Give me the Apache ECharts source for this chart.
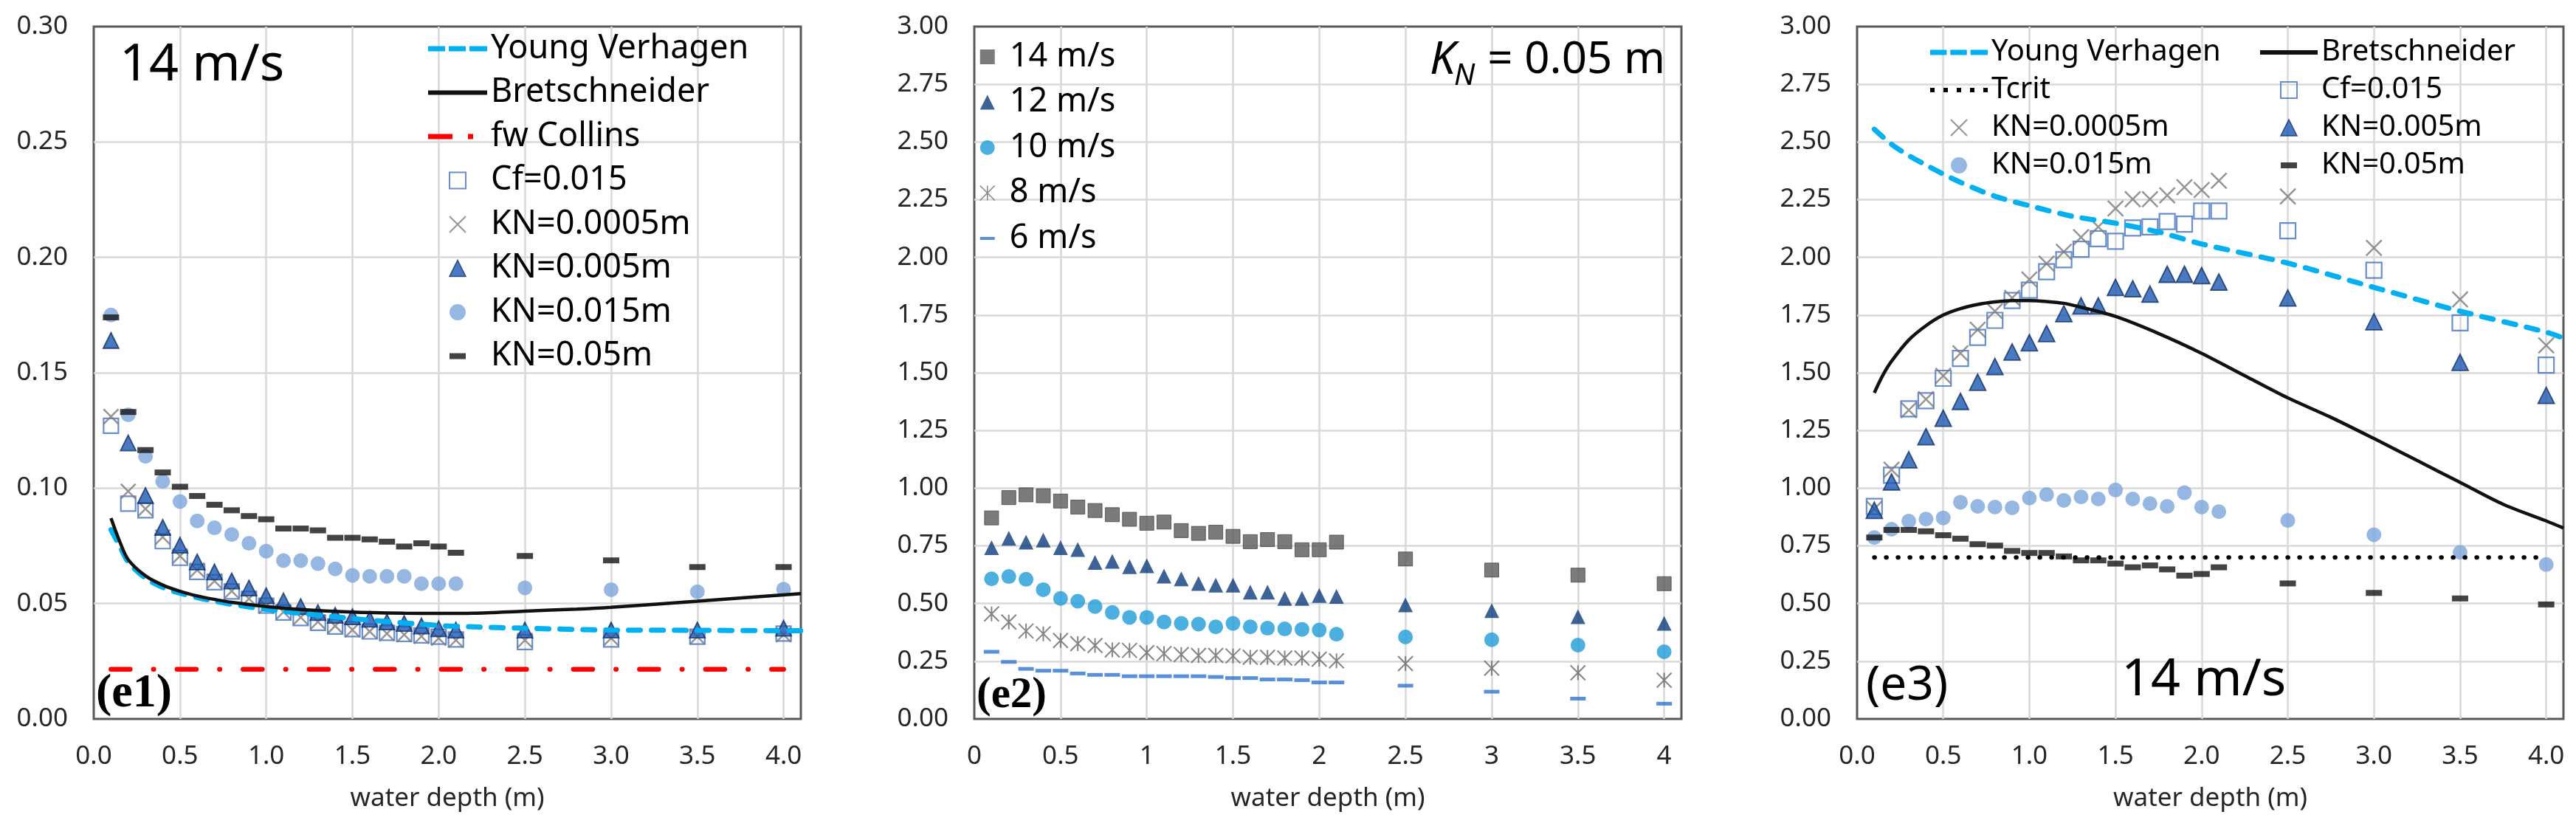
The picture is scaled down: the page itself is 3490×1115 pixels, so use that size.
<!DOCTYPE html>
<html><head><meta charset="utf-8">
<script src="https://cdn.jsdelivr.net/npm/echarts@6/dist/echarts.min.js"></script>
<style>html,body{margin:0;padding:0;background:#fff}#c{width:3490px;height:1115px}</style>
</head><body><div id="c"></div>
<script>
// ---------- DATA ----------
const depths = [0.1,0.2,0.3,0.4,0.5,0.6,0.7,0.8,0.9,1.0,1.1,1.2,1.3,1.4,1.5,1.6,1.7,1.8,1.9,2.0,2.1,2.5,3.0,3.5,4.0];

// Panel e1 (14 m/s)
const e1_cf015   = [0.127,0.0933,0.0904,0.077,0.0698,0.0637,0.0592,0.0552,0.052,0.0491,0.0461,0.0437,0.0416,0.0400,0.0389,0.0379,0.0373,0.0368,0.0362,0.0356,0.0344,0.0333,0.0344,0.0356,0.0370];
const e1_kn00005 = [0.131,0.0986,0.0910,0.0788,0.0706,0.0645,0.0598,0.0554,0.0521,0.0488,0.0463,0.0440,0.0421,0.0403,0.0386,0.0379,0.0370,0.0365,0.0358,0.0350,0.0341,0.0341,0.0350,0.0356,0.0365];
const e1_kn0005  = [0.164,0.1196,0.0968,0.083,0.0753,0.068,0.0637,0.0598,0.0567,0.0534,0.0512,0.0487,0.0461,0.0449,0.0443,0.0432,0.0420,0.0414,0.0403,0.0391,0.0385,0.0385,0.0385,0.0385,0.0393];
const e1_kn0015  = [0.175,0.1318,0.1138,0.1029,0.0942,0.0858,0.0828,0.0799,0.0761,0.0727,0.0686,0.0686,0.0673,0.0650,0.0622,0.0618,0.0618,0.0618,0.0586,0.0586,0.0586,0.0568,0.0560,0.0551,0.0562];
const e1_kn005   = [0.174,0.133,0.1165,0.1068,0.1006,0.0966,0.0928,0.0904,0.0879,0.0865,0.0825,0.0825,0.0817,0.0785,0.0785,0.0778,0.0768,0.0747,0.0761,0.0747,0.0720,0.0706,0.0687,0.0658,0.0658];
const e1_yvX   = [0.1,0.15,0.2,0.3,0.4,0.5,0.7,1.0,1.5,2.0,2.2,2.5,3.0,3.5,4.1];
const e1_yvY   = [0.082,0.075,0.068,0.061,0.057,0.0545,0.051,0.0475,0.0435,0.0405,0.0399,0.0393,0.0385,0.0384,0.0382];
const e1_bretX = [0.1,0.15,0.2,0.3,0.4,0.5,0.6,0.7,0.8,1.0,1.2,1.5,1.8,2.0,2.2,2.5,2.8,3.0,3.5,4.1];
const e1_bretY = [0.087,0.077,0.069,0.062,0.058,0.0553,0.0533,0.0518,0.0505,0.0487,0.0474,0.0463,0.0458,0.0457,0.0458,0.0467,0.0476,0.0484,0.0510,0.0543];
const e1_colX  = [0.1,4.0];
const e1_colY  = [0.0215,0.0215];

// Panel e2 (KN = 0.05 m)
const e2_14 = [0.871,0.959,0.971,0.967,0.944,0.918,0.903,0.885,0.865,0.848,0.853,0.816,0.804,0.809,0.791,0.768,0.777,0.768,0.733,0.733,0.766,0.693,0.645,0.623,0.586];
const e2_12 = [0.742,0.783,0.766,0.775,0.742,0.734,0.678,0.683,0.660,0.664,0.619,0.607,0.587,0.580,0.580,0.549,0.549,0.522,0.522,0.535,0.531,0.494,0.469,0.443,0.414];
const e2_10 = [0.607,0.617,0.605,0.560,0.522,0.510,0.487,0.461,0.440,0.440,0.420,0.414,0.411,0.399,0.414,0.399,0.393,0.390,0.388,0.385,0.367,0.355,0.343,0.320,0.291];
const e2_8  = [0.455,0.420,0.381,0.369,0.340,0.326,0.318,0.299,0.297,0.287,0.283,0.279,0.275,0.275,0.273,0.267,0.267,0.264,0.264,0.259,0.252,0.240,0.220,0.200,0.168];
const e2_6  = [0.291,0.247,0.217,0.209,0.209,0.197,0.191,0.191,0.185,0.185,0.185,0.185,0.185,0.182,0.177,0.177,0.171,0.171,0.168,0.158,0.158,0.144,0.118,0.088,0.066];

// Panel e3 (14 m/s)
const e3_cf015   = [0.921,1.056,1.344,1.379,1.476,1.562,1.653,1.727,1.813,1.858,1.938,1.990,2.035,2.081,2.070,2.127,2.132,2.155,2.144,2.201,2.201,2.115,1.944,1.716,1.533];
const e3_kn00005 = [0.910,1.080,1.338,1.385,1.487,1.584,1.687,1.767,1.824,1.904,1.973,2.024,2.087,2.132,2.212,2.252,2.252,2.269,2.304,2.292,2.332,2.264,2.041,1.818,1.619];
const e3_kn0005  = [0.904,1.027,1.123,1.223,1.303,1.376,1.459,1.527,1.590,1.630,1.670,1.756,1.790,1.790,1.870,1.864,1.841,1.927,1.927,1.921,1.893,1.824,1.721,1.545,1.402];
const e3_kn0015  = [0.786,0.822,0.857,0.866,0.871,0.939,0.921,0.918,0.915,0.957,0.972,0.947,0.962,0.953,0.992,0.953,0.933,0.921,0.980,0.918,0.898,0.860,0.798,0.722,0.669];
const e3_kn005   = [0.786,0.819,0.819,0.813,0.796,0.781,0.757,0.751,0.728,0.719,0.719,0.704,0.687,0.687,0.673,0.657,0.665,0.648,0.621,0.628,0.657,0.587,0.546,0.522,0.496];
const e3_yvX   = [0.1,0.2,0.3,0.4,0.5,0.6,0.8,1.0,1.25,1.5,1.75,2.0,2.5,3.0,3.5,4.0,4.1];
const e3_yvY   = [2.555,2.49,2.441,2.40,2.361,2.325,2.265,2.224,2.178,2.148,2.11,2.058,1.975,1.87,1.767,1.676,1.65];
const e3_bretX = [0.1,0.15,0.2,0.3,0.4,0.5,0.6,0.7,0.8,0.9,1.0,1.1,1.2,1.3,1.5,1.75,2.0,2.25,2.5,2.75,3.0,3.25,3.5,3.75,4.0,4.1];
const e3_bretY = [1.413,1.49,1.550,1.642,1.704,1.75,1.778,1.796,1.807,1.813,1.813,1.809,1.801,1.784,1.744,1.670,1.584,1.487,1.391,1.307,1.215,1.12,1.025,0.93,0.858,0.827];
const e3_tcX   = [0.1,4.0];
const e3_tcY   = [0.70,0.70];

// Tick labels
const yTicks1 = [0,0.05,0.10,0.15,0.20,0.25,0.30];
const yTicks23 = [0,0.25,0.5,0.75,1,1.25,1.5,1.75,2,2.25,2.5,2.75,3];
const xTicks = [0,0.5,1,1.5,2,2.5,3,3.5,4];

// ---------- STYLE ----------
const FONT = "'Noto Sans','Open Sans',sans-serif";
const SERIF = "'Liberation Serif','DejaVu Serif',serif";
const LBL = '#262626';
const C_YV = '#00B0F0', C_BR = '#111111', C_RED = '#FF0000';
const C_SQ = '#4472C4', C_X = '#7A7A7A', C_TRI = '#1B58B0', C_TRIB = '#112F66', C_CIR = '#7DA5DC', C_DSH = '#141414';
const P2_SQ = '#5A5A5A', P2_TRI = '#0C3C7C', P2_CIR = '#1E9BD7', P2_AST = '#666666', P2_DSH = '#2E74D2';

const S_OPENSQ = 'path://M0,0L20,0L20,20L0,20Z';
const S_CROSS = 'path://M0,0L20,20M20,0L0,20';
const S_AST = 'path://M0,0L20,20M20,0L0,20M10,0L10,20';
const I_TRI = 'path://M10,0L20,20L0,20Z';
const I_DASH = 'path://M0,0M22,22M0,7h22v8h-22z';
const I_DASH_THIN = 'path://M0,0M20,20M0,8h20v4h-20z';
const I_SQ = 'path://M0,0h20v20h-20z';
const I_YV = 'path://M0,0h23v7h-23zM28,0h23v7h-23zM56,0h24v7h-24z';
const I_BR = 'path://M0,0h80v6h-80z';
const I_COL = 'path://M0,0h33v7h-33zM54,0h7v7h-7zM80,7';
const I_TC = 'path://M0,0h6v6h-6zM18,0h6v6h-6zM36,0h6v6h-6zM54,0h6v6h-6zM72,0h6v6h-6z';

function pts(xs, ys){ return xs.map((x,i)=>[x, ys[i]]); }
function isTick(v){ return xTicks.some(t=>Math.abs(t-v)<1e-6); }

const grids = [
  {left:127, top:36, width:958, height:938},
  {left:1320, top:36, width:958, height:938},
  {left:2516, top:36, width:957, height:938}
].map(g=>Object.assign(g,{show:true, borderColor:'#595959', borderWidth:3, backgroundColor:'transparent', containLabel:false}));

function xAxis(idx, fmt){
  return {type:'value', gridIndex:idx, min:0, max:4.1, interval:0.5,
    name:'water depth (m)', nameLocation:'middle', nameGap:91,
    nameTextStyle:{fontSize:35, fontFamily:FONT, color:LBL},
    axisLine:{show:false}, axisTick:{show:false},
    axisLabel:{fontSize:35, fontFamily:FONT, color:LBL, margin:34, formatter:v=>isTick(v)?fmt(v):''},
    splitLine:{show:true, showMinLine:false, showMaxLine:false, lineStyle:{color:'#d9d9d9', width:2.5}}};
}
function yAxis(idx, max, interval){
  return {type:'value', gridIndex:idx, min:0, max:max, interval:interval,
    axisLine:{show:false}, axisTick:{show:false},
    axisLabel:{fontSize:35, fontFamily:FONT, color:LBL, margin:35, formatter:v=>v.toFixed(2)},
    splitLine:{show:true, showMinLine:false, showMaxLine:false, lineStyle:{color:'#d9d9d9', width:2.5}}};
}

function scatter(name, ax, ys, sym, size, style){
  return {type:'scatter', name, xAxisIndex:ax, yAxisIndex:ax, data:pts(depths, ys),
    symbol:sym, symbolSize:size, itemStyle:style, emphasis:{disabled:true}};
}
function line(name, ax, xs, ys, ls, smooth){
  return {type:'line', name, xAxisIndex:ax, yAxisIndex:ax, data:pts(xs, ys), showSymbol:false, symbol:'none',
    smooth:smooth?0.3:false, lineStyle:ls, itemStyle:{color:ls.color}, emphasis:{disabled:true}};
}

const stOpenSq = {color:'rgba(0,0,0,0)', borderColor:C_SQ, borderWidth:2.2};
const stCross = {color:'rgba(0,0,0,0)', borderColor:C_X, borderWidth:2.5};
const stTri = {color:C_TRI, borderColor:C_TRIB, borderWidth:1.8};
const stCir = {color:C_CIR};
const stDsh = {color:C_DSH};

const series = [
  // e1
  line('Young Verhagen', 0, e1_yvX, e1_yvY, {color:C_YV, width:7, type:[16,15], cap:'round'}, true),
  line('Bretschneider', 0, e1_bretX, e1_bretY, {color:C_BR, width:4.5}, true),
  line('fw Collins', 0, e1_colX, e1_colY, {color:C_RED, width:6.5, type:[26,31.5,0.5,31.5], cap:'round'}, false),
  scatter('Cf=0.015', 0, e1_cf015, S_OPENSQ, 20, stOpenSq),
  scatter('KN=0.0005m', 0, e1_kn00005, S_CROSS, 20, stCross),
  scatter('KN=0.005m', 0, e1_kn0005, 'triangle', [21,21], stTri),
  scatter('KN=0.015m', 0, e1_kn0015, 'circle', 20, stCir),
  scatter('KN=0.05m', 0, e1_kn005, 'rect', [22,8], stDsh),
  // e2
  scatter('14 m/s', 1, e2_14, 'rect', 19, {color:P2_SQ, borderColor:'#444', borderWidth:1}),
  scatter('12 m/s', 1, e2_12, 'triangle', [20,20], {color:P2_TRI}),
  scatter('10 m/s', 1, e2_10, 'circle', 20, {color:P2_CIR}),
  scatter('8 m/s', 1, e2_8, S_AST, 20, {color:'rgba(0,0,0,0)', borderColor:P2_AST, borderWidth:2}),
  scatter('6 m/s', 1, e2_6, 'rect', [21,5], {color:P2_DSH}),
  // e3
  line('Young Verhagen', 2, e3_yvX, e3_yvY, {color:C_YV, width:7, type:[16,15], cap:'round'}, true),
  line('Bretschneider', 2, e3_bretX, e3_bretY, {color:C_BR, width:4.5}, true),
  line('Tcrit', 2, e3_tcX, e3_tcY, {color:'#000', width:6, type:[0.5,15.5], cap:'round'}, false),
  scatter('Cf=0.015', 2, e3_cf015, S_OPENSQ, 21, stOpenSq),
  scatter('KN=0.0005m', 2, e3_kn00005, S_CROSS, 21, stCross),
  scatter('KN=0.005m', 2, e3_kn0005, 'triangle', [22,22], stTri),
  scatter('KN=0.015m', 2, e3_kn0015, 'circle', 20, stCir),
  scatter('KN=0.05m', 2, e3_kn005, 'rect', [22,8], stDsh)
];

const legItems = {
  'Young Verhagen': {icon:I_YV, itemStyle:{color:C_YV, borderWidth:0}},
  'Bretschneider': {icon:I_BR, itemStyle:{color:C_BR, borderWidth:0}},
  'fw Collins': {icon:I_COL, itemStyle:{color:C_RED, borderWidth:0}},
  'Tcrit': {icon:I_TC, itemStyle:{color:'#000', borderWidth:0}},
  'Cf=0.015': {icon:S_OPENSQ, itemStyle:{color:'rgba(0,0,0,0)', borderColor:C_SQ, borderWidth:2}},
  'KN=0.0005m': {icon:S_CROSS, itemStyle:{color:'rgba(0,0,0,0)', borderColor:C_X, borderWidth:2}},
  'KN=0.005m': {icon:I_TRI, itemStyle:{color:C_TRI, borderColor:C_TRIB, borderWidth:1.5}},
  'KN=0.015m': {icon:'circle', itemStyle:{color:C_CIR, borderWidth:0}},
  'KN=0.05m': {icon:I_DASH, itemStyle:{color:C_DSH, borderWidth:0}},
  '14 m/s': {icon:I_SQ, itemStyle:{color:P2_SQ, borderWidth:0}},
  '12 m/s': {icon:I_TRI, itemStyle:{color:P2_TRI, borderWidth:0}},
  '10 m/s': {icon:'circle', itemStyle:{color:P2_CIR, borderWidth:0}},
  '8 m/s': {icon:S_AST, itemStyle:{color:'rgba(0,0,0,0)', borderColor:P2_AST, borderWidth:1.5}},
  '6 m/s': {icon:I_DASH_THIN, itemStyle:{color:P2_DSH, borderWidth:0}}
};
function legData(names){ return names.map(n=>Object.assign({name:n}, legItems[n])); }
function legend(names, left, top, iw, ih, gap, fs, lh){
  return {show:true, orient:'vertical', left, top, padding:0, itemWidth:iw, itemHeight:ih, itemGap:gap,
    selectedMode:false, data:legData(names), textStyle:{fontSize:fs, lineHeight:lh, fontFamily:FONT, color:'#000'}};
}

const option = {
  animation:false, backgroundColor:'#fff',
  grid: grids,
  xAxis: [xAxis(0, v=>v.toFixed(1)), xAxis(1, v=>String(Math.round(v*10)/10)), xAxis(2, v=>v.toFixed(1))],
  yAxis: [yAxis(0, 0.3, 0.05), yAxis(1, 3, 0.25), yAxis(2, 3, 0.25)],
  legend: [
    legend(['Young Verhagen','Bretschneider','fw Collins','Cf=0.015','KN=0.0005m','KN=0.005m','KN=0.015m','KN=0.05m'], 580, 42, 80, 22, 11.5, 45, 48),
    legend(['14 m/s','12 m/s','10 m/s','8 m/s','6 m/s'], 1327, 52, 50, 20, 11.5, 45, 50),
    legend(['Young Verhagen','Tcrit','KN=0.0005m','KN=0.015m'], 2615, 49, 78, 22, 7, 40, 44),
    legend(['Bretschneider','Cf=0.015','KN=0.005m','KN=0.05m'], 3062, 49, 78, 22, 7, 40, 44)
  ],
  graphic: [
    {type:'text', x:162, y:89, z:100, style:{text:'14 m/s', fontSize:70, fontFamily:FONT, fill:'#000', align:'left', verticalAlign:'middle'}},
    {type:'text', x:130, y:940, z:100, style:{text:'(e1)', fontSize:64, fontWeight:'bold', fontFamily:SERIF, fill:'#000', align:'left', verticalAlign:'middle'}},
    {type:'text', x:1937, y:82, z:100, style:{text:'K', fontSize:62, fontStyle:'italic', fontFamily:FONT, fill:'#000', align:'left', verticalAlign:'middle'}},
    {type:'text', x:1970, y:104, z:100, style:{text:'N', fontSize:40, fontStyle:'italic', fontFamily:FONT, fill:'#000', align:'left', verticalAlign:'middle'}},
    {type:'text', x:2256, y:82, z:100, style:{text:'= 0.05 m', fontSize:60, fontFamily:FONT, fill:'#000', align:'right', verticalAlign:'middle'}},
    {type:'text', x:1323, y:943, z:100, style:{text:'(e2)', fontSize:59, fontWeight:'bold', fontFamily:SERIF, fill:'#000', align:'left', verticalAlign:'middle'}},
    {type:'text', x:2528, y:930, z:100, style:{text:'(e3)', fontSize:64, fontFamily:FONT, fill:'#000', align:'left', verticalAlign:'middle'}},
    {type:'text', x:2874, y:922, z:100, style:{text:'14 m/s', fontSize:70, fontFamily:FONT, fill:'#000', align:'left', verticalAlign:'middle'}}
  ],
  series
};
const chart = echarts.init(document.getElementById('c'), null, {renderer:'canvas'});
chart.setOption(option);
</script>
</body></html>
